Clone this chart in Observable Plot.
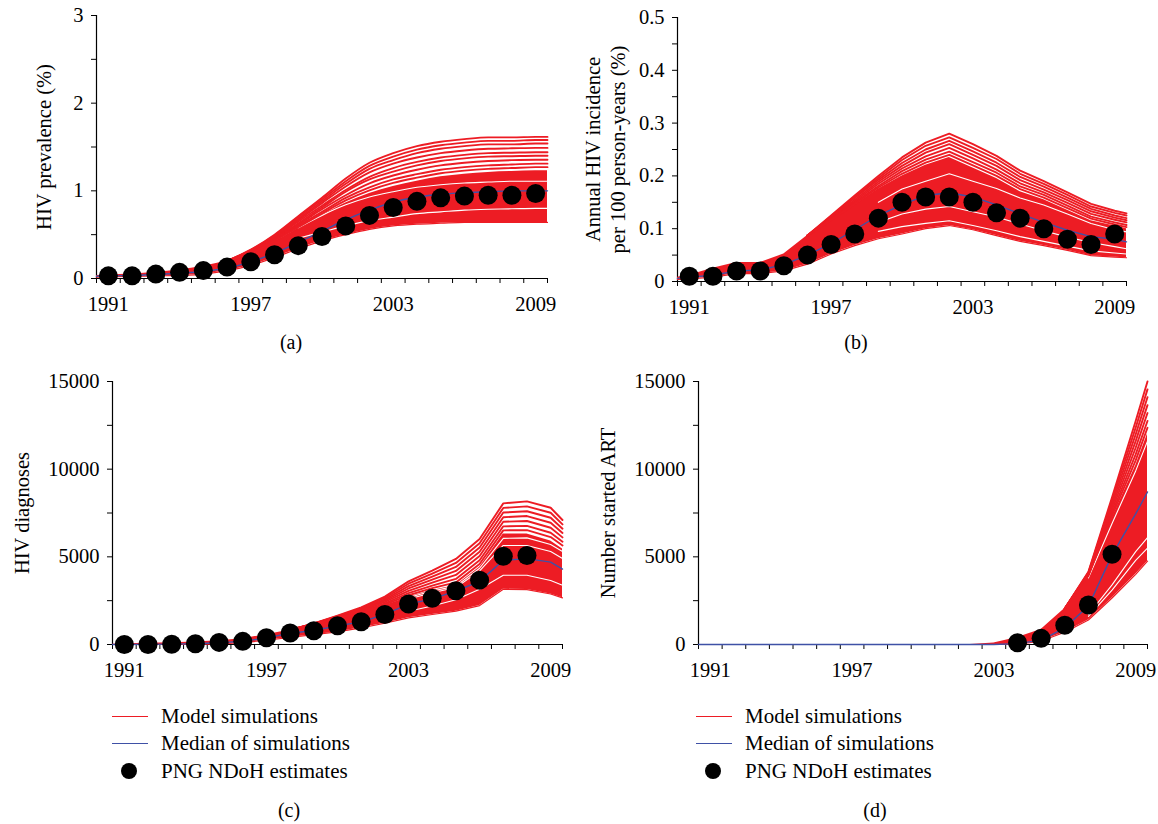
<!DOCTYPE html>
<html><head><meta charset="utf-8">
<script src="https://cdn.jsdelivr.net/npm/d3@7"></script>
<script src="https://cdn.jsdelivr.net/npm/@observablehq/plot@0.6"></script>
<style>
body{margin:0;background:#fff;width:1158px;height:824px;position:relative;overflow:hidden;font-family:"Liberation Serif",serif;color:#000;}
.panel{position:absolute;}
.cap{position:absolute;font-size:20px;transform:translate(-50%,-50%);white-space:nowrap;}
.lt{position:absolute;font-size:21px;line-height:24px;white-space:nowrap;}
.sw{position:absolute;height:0;width:36px;}
.dt{position:absolute;width:16px;height:16px;border-radius:50%;background:#000;}
</style></head><body>
<div id="pa" class="panel" style="left:0;top:0"></div>
<div id="pb" class="panel" style="left:579px;top:0"></div>
<div id="pc" class="panel" style="left:0;top:360px"></div>
<div id="pd" class="panel" style="left:579px;top:360px"></div>
<div class="cap" style="left:291px;top:342px">(a)</div>
<div class="cap" style="left:856px;top:342px">(b)</div>
<div class="cap" style="left:289px;top:810px">(c)</div>
<div class="cap" style="left:875px;top:810px">(d)</div>
<div id="legc"></div>
<div id="legd"></div>
<script>
// ---------- shared axes data ----------
const years = [1991,1992,1993,1994,1995,1996,1997,1998,1999,2000,2001,2002,2003,2004,2005,2006,2007,2008,2009];
const simYears = [1990.5,1991,1992,1993,1994,1995,1996,1997,1998,1999,2000,2001,2002,2003,2004,2005,2006,2007,2008,2009,2009.5];
const xBounds = [1990.5,1991.5,1992.5,1993.5,1994.5,1995.5,1996.5,1997.5,1998.5,1999.5,2000.5,2001.5,2002.5,2003.5,2004.5,2005.5,2006.5,2007.5,2008.5,2009.5];
const xLabels = [1991,1997,2003,2009];
const legendLabels = ["Model simulations","Median of simulations","PNG NDoH estimates"];

// ---------- (a) HIV prevalence ----------
const aEstimates = [0.03,0.03,0.05,0.07,0.09,0.13,0.19,0.27,0.375,0.48,0.60,0.72,0.81,0.88,0.92,0.94,0.95,0.95,0.97];
const aMedian = [0.025,0.03,0.035,0.045,0.06,0.08,0.12,0.19,0.29,0.41,0.54,0.67,0.78,0.87,0.93,0.96,0.98,0.99,1.0,1.0,1.0];
const aLow = [0.015,0.02,0.025,0.03,0.035,0.05,0.09,0.15,0.24,0.34,0.43,0.50,0.56,0.60,0.62,0.63,0.64,0.64,0.64,0.64,0.64];
const aCore = [0.035,0.04,0.05,0.07,0.10,0.14,0.20,0.28,0.42,0.57,0.72,0.86,0.97,1.05,1.11,1.16,1.19,1.21,1.22,1.23,1.23];
const aUpperYears = [1996,1997,1998,1999,2000,2001,2002,2003,2004,2005,2006,2007,2008,2009,2009.5];
const aUpperSims = [
  [0.2,0.33,0.50,0.71,0.92,1.14,1.32,1.43,1.51,1.56,1.59,1.61,1.61,1.615,1.615],
  [0.2,0.325,0.49,0.70,0.90,1.11,1.285,1.39,1.47,1.52,1.55,1.57,1.57,1.58,1.58],
  [0.2,0.32,0.48,0.68,0.88,1.08,1.25,1.35,1.43,1.48,1.51,1.53,1.53,1.54,1.54],
  [0.2,0.31,0.47,0.665,0.86,1.05,1.21,1.31,1.38,1.43,1.46,1.48,1.485,1.49,1.49],
  [0.2,0.31,0.46,0.65,0.83,1.01,1.16,1.26,1.33,1.38,1.41,1.43,1.435,1.44,1.44],
  [0.2,0.30,0.455,0.63,0.81,0.99,1.13,1.22,1.29,1.34,1.37,1.39,1.395,1.40,1.40],
  [0.2,0.30,0.45,0.615,0.79,0.95,1.085,1.175,1.24,1.29,1.32,1.34,1.35,1.355,1.355],
  [0.2,0.29,0.44,0.60,0.76,0.92,1.04,1.13,1.19,1.24,1.27,1.29,1.30,1.31,1.31],
  [0.2,0.285,0.43,0.585,0.74,0.89,1.005,1.09,1.15,1.20,1.23,1.25,1.26,1.27,1.27]
];
// empty strips between groups of simulations
const aGapYears = [1999,2000,2001,2002,2003,2004,2005,2006,2007,2008,2009,2009.5];
const aGaps = [
  [0.46,0.53,0.60,0.66,0.70,0.74,0.76,0.78,0.79,0.795,0.80,0.80],
  [0.58,0.72,0.84,0.93,0.99,1.04,1.07,1.09,1.10,1.11,1.11,1.11]
];

// ---------- (b) HIV incidence ----------
const bEstimates = [0.01,0.01,0.02,0.02,0.03,0.05,0.07,0.09,0.12,0.15,0.16,0.16,0.15,0.13,0.12,0.10,0.08,0.07,0.09];
const bMedian = [0.006,0.008,0.012,0.02,0.022,0.032,0.05,0.072,0.098,0.125,0.145,0.163,0.168,0.16,0.145,0.128,0.112,0.097,0.085,0.08,0.075];
const bLow = [0.004,0.005,0.008,0.015,0.015,0.02,0.033,0.052,0.068,0.081,0.09,0.10,0.106,0.098,0.087,0.076,0.068,0.059,0.049,0.046,0.045];
const bCore = [0.008,0.012,0.025,0.036,0.036,0.052,0.087,0.115,0.145,0.175,0.20,0.22,0.235,0.215,0.195,0.17,0.155,0.135,0.115,0.105,0.10];
const bUpperYears = [1996,1997,1998,1999,2000,2001,2002,2003,2004,2005,2006,2007,2008,2009,2009.5];
const bUpperSims = [
  [0.087,0.125,0.163,0.20,0.235,0.263,0.28,0.26,0.238,0.21,0.19,0.169,0.147,0.134,0.129],
  [0.087,0.1235,0.160,0.196,0.230,0.257,0.273,0.253,0.232,0.204,0.185,0.164,0.142,0.130,0.125],
  [0.087,0.122,0.158,0.1925,0.2245,0.250,0.2665,0.2465,0.225,0.198,0.1795,0.159,0.1375,0.125,0.12],
  [0.087,0.1205,0.155,0.189,0.219,0.244,0.26,0.24,0.219,0.192,0.174,0.154,0.133,0.121,0.116],
  [0.087,0.119,0.152,0.185,0.214,0.237,0.253,0.233,0.212,0.186,0.169,0.149,0.128,0.117,0.112],
  [0.087,0.1175,0.1495,0.181,0.209,0.231,0.246,0.226,0.206,0.18,0.164,0.1435,0.123,0.112,0.107],
  [0.087,0.116,0.147,0.178,0.204,0.225,0.24,0.22,0.20,0.175,0.159,0.139,0.119,0.108,0.103]
];
const bGapYears = [1999,2000,2001,2002,2003,2004,2005,2006,2007,2008,2009,2009.5];
const bGaps = [
  [0.095,0.104,0.11,0.115,0.106,0.096,0.085,0.076,0.067,0.058,0.054,0.052],
  [0.112,0.128,0.137,0.142,0.132,0.122,0.109,0.096,0.084,0.074,0.066,0.062],
  [0.15,0.175,0.19,0.204,0.19,0.176,0.158,0.145,0.128,0.11,0.098,0.094]
];

// ---------- (c) HIV diagnoses ----------
const cEstYears = [1991,1992,1993,1994,1995,1996,1997,1998,1999,2000,2001,2002,2003,2004,2005,2006,2007,2008];
const cEstimates = [0,0,10,40,120,180,380,660,780,1070,1300,1710,2310,2640,3070,3670,5030,5080];
const cMedian = [0,0,10,20,40,100,180,380,640,800,1060,1290,1720,2300,2600,3050,3600,4800,4900,4700,4300];
const cLow = [0,0,0,0,10,40,100,250,400,560,720,950,1210,1520,1710,1900,2220,3150,3130,2880,2660];
const cCore = [20,40,70,100,140,210,330,560,830,1150,1460,1750,2220,2700,3075,3360,4400,6300,6300,5900,5450];
const cUpperYears = [1998,1999,2000,2001,2002,2003,2004,2005,2006,2007,2008,2009,2009.5];
const cUpperSims = [
  [830,1200,1650,2120,2730,3600,4215,4880,6020,8050,8160,7800,7100],
  [830,1190,1620,2065,2655,3465,4045,4650,5775,7790,7880,7515,6850],
  [830,1185,1595,2010,2575,3330,3875,4425,5535,7525,7600,7230,6605],
  [830,1178,1565,1955,2500,3195,3700,4195,5290,7260,7325,6945,6360],
  [830,1170,1535,1900,2425,3060,3530,3970,5050,7000,7045,6660,6110],
  [830,1163,1508,1843,2348,2925,3360,3740,4805,6740,6765,6375,5865],
  [830,1156,1483,1794,2281,2808,3212,3542,4594,6510,6523,6128,5648]
];
const cGapYears = [2003,2004,2005,2006,2007,2008,2009,2009.5];
const cGaps = [
  [1900,2200,2550,3150,3950,3950,3650,3380],
  [2600,2950,3250,4200,5650,5650,5300,4900],
  [2680,3050,3330,4350,6050,6080,5700,5300]
];

// ---------- (d) Number started ART ----------
const dEstYears = [2004,2005,2006,2007,2008];
const dEstimates = [100,350,1100,2250,5150];
const dMedian = [0,0,0,0,0,0,0,0,0,0,0,0,0,0,50,250,950,2200,5100,7450,8700];
const dLow = [0,0,0,0,0,0,0,0,0,0,0,0,0,0,0,200,700,1400,2650,4000,4750];
const dCore = [0,0,0,0,0,0,0,0,0,0,0,0,0,80,400,850,2050,3900,7200,10200,12000];
const dUpperYears = [2006,2007,2008,2009,2009.5];
const dUpperSims = [
  [2050,4150,8400,12750,15000],
  [2050,4110,8220,12370,14550],
  [2050,4075,8040,11985,14100],
  [2050,4040,7860,11600,13650],
  [2050,4000,7680,11220,13200],
  [2050,3960,7500,10840,12750],
  [2050,3930,7345,10505,12360]
];
const dGapYears = [2007,2008,2009,2009.5];
const dGaps = [
  [1600,3100,4800,5500],
  [1700,3400,5300,6100],
  [3800,6900,9900,11600]
];

const RED = "#ed1c24", BLUE = "#3f51a6";
const FONT = "Liberation Serif";

function panel(o) {
  const band = simYears.map((x, i) => ({x, lo: o.low[i], hi: o.core[i], med: o.median[i]}));
  const sims = o.upperSims.flatMap((s, k) => s.map((v, i) => ({x: o.upperYears[i], y: v, k})));
  const gaps = o.gaps.flatMap((s, k) => s.map((v, i) => ({x: o.gapYears[i], y: v, k})));
  const est = o.est.map((v, i) => ({x: o.estYears[i], y: v}));
  const curve = o.curve || "linear";
  return Plot.plot({
    width: o.width, height: o.height,
    marginLeft: o.ml, marginRight: o.mr, marginTop: o.mt, marginBottom: o.mb,
    style: {fontFamily: FONT, fontSize: "20px", color: "#000", background: "#fff", overflow: "visible"},
    x: {domain: [1990.5, 2009.5], label: null},
    y: {domain: o.yDomain, label: null},
    marks: [
      Plot.ruleY([o.yDomain[0]], {stroke: "#000", strokeWidth: 1.2}),
      Plot.ruleX([1990.5], {stroke: "#000", strokeWidth: 1.2}),
      Plot.axisX({ticks: xBounds, tickSize: 5, tickFormat: () => "", label: null}),
      Plot.axisX({ticks: xLabels, tickSize: 0, tickPadding: 18, tickFormat: d => String(d), label: null, fontSize: 20.5}),
      Plot.axisY({ticks: o.yMajor.concat(o.yMinor), tickSize: 5, tickFormat: () => "", label: null}),
      Plot.axisY({ticks: o.yMajor, tickSize: 0, tickPadding: 13, tickFormat: o.yFmt, label: null, fontSize: 20.5}),
      Plot.areaY(band, {x: "x", y1: "lo", y2: "hi", fill: RED, curve}),
      Plot.line(band, {x: "x", y: "lo", stroke: RED, strokeWidth: 1.2, curve}),
      Plot.line(gaps, {x: "x", y: "y", z: "k", stroke: "#fff", strokeWidth: 1.1, curve}),
      Plot.line(sims, {x: "x", y: "y", z: "k", stroke: RED, strokeWidth: 1.9, curve}),
      Plot.line(band, {x: "x", y: "med", stroke: BLUE, strokeWidth: 1.4, curve}),
      Plot.dot(est, {x: "x", y: "y", r: 9.5, fill: "#000"}),
      Plot.text([o.title], {text: d => d, frameAnchor: "left", textAnchor: "middle", lineAnchor: "middle", dx: o.titleDx, rotate: -90, fontSize: 20.5, lineHeight: 1.2})
    ]
  });
}

document.getElementById("pa").append(panel({
  width: 579, height: 325, ml: 96, mr: 32, mt: 15, mb: 47,
  yDomain: [0, 3], yMajor: [0,1,2,3], yMinor: [0.5,1.5,2.5], yFmt: d => String(d),
  low: aLow, core: aCore, median: aMedian, upperYears: aUpperYears, upperSims: aUpperSims,
  gapYears: aGapYears, gaps: aGaps,
  estYears: years, est: aEstimates, curve: "monotone-x",
  title: "HIV prevalence (%)", titleDx: -53
}));
document.getElementById("pb").append(panel({
  width: 579, height: 325, ml: 98, mr: 32, mt: 17, mb: 44,
  yDomain: [0, 0.5], yMajor: [0,0.1,0.2,0.3,0.4,0.5], yMinor: [0.05,0.15,0.25,0.35,0.45],
  yFmt: d => d === 0 ? "0" : d.toFixed(1),
  low: bLow, core: bCore, median: bMedian, upperYears: bUpperYears, upperSims: bUpperSims,
  gapYears: bGapYears, gaps: bGaps,
  estYears: years, est: bEstimates,
  title: "Annual HIV incidence\nper 100 person-years (%)", titleDx: -73
}));
document.getElementById("pc").append(panel({
  width: 579, height: 330, ml: 112, mr: 17, mt: 21, mb: 46,
  yDomain: [0, 15000], yMajor: [0,5000,10000,15000], yMinor: [2500,7500,12500], yFmt: d => String(d),
  low: cLow, core: cCore, median: cMedian, upperYears: cUpperYears, upperSims: cUpperSims,
  gapYears: cGapYears, gaps: cGaps,
  estYears: cEstYears, est: cEstimates,
  title: "HIV diagnoses", titleDx: -91
}));
document.getElementById("pd").append(panel({
  width: 579, height: 330, ml: 119, mr: 11, mt: 21, mb: 46,
  yDomain: [0, 15000], yMajor: [0,5000,10000,15000], yMinor: [2500,7500,12500], yFmt: d => String(d),
  low: dLow, core: dCore, median: dMedian, upperYears: dUpperYears, upperSims: dUpperSims,
  gapYears: dGapYears, gaps: dGaps,
  estYears: dEstYears, est: dEstimates,
  title: "Number started ART", titleDx: -91
}));

function legend(id, x0) {
  const el = document.getElementById(id);
  const rows = [716, 743, 771];
  el.innerHTML =
    `<div class="sw" style="left:${x0}px;top:${rows[0]}px;border-top:1.5px solid ${RED}"></div>` +
    `<div class="sw" style="left:${x0}px;top:${rows[1]}px;border-top:1.5px solid ${BLUE}"></div>` +
    `<div class="dt" style="left:${x0 + 9}px;top:${rows[2] - 8}px"></div>` +
    legendLabels.map((t, i) => `<div class="lt" style="left:${x0 + 49}px;top:${rows[i] - 12}px">${t}</div>`).join("");
}
legend("legc", 112);
legend("legd", 696);
</script>
</body></html>
